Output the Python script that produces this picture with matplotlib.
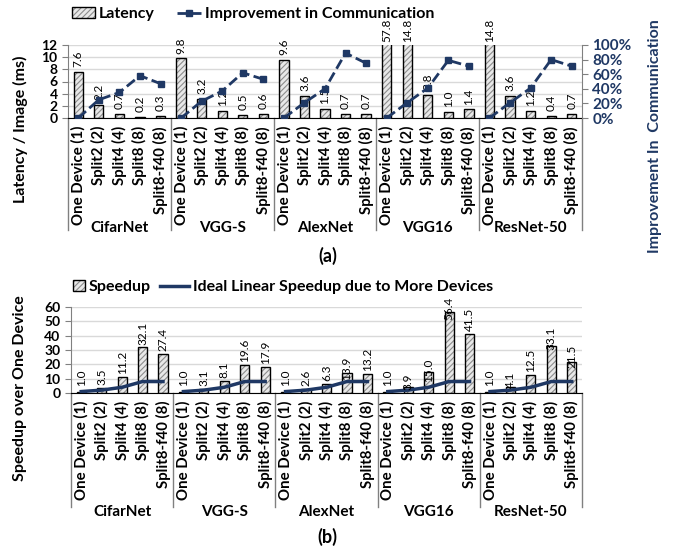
import matplotlib
matplotlib.use("Agg")
import matplotlib.pyplot as plt
import numpy as np
from matplotlib.patches import Patch
from matplotlib.lines import Line2D
from matplotlib.ticker import PercentFormatter

plt.rcParams['font.family'] = ['Lato', 'DejaVu Sans']

networks = ["CifarNet", "VGG-S", "AlexNet", "VGG16", "ResNet-50"]
configs = ["One Device (1)", "Split2 (2)", "Split4 (4)", "Split8 (8)", "Split8-f40 (8)"]

# latency per image (ms)
latency = [
    [7.6, 2.2, 0.7, 0.2, 0.3],
    [9.8, 3.2, 1.2, 0.5, 0.6],
    [9.6, 3.6, 1.5, 0.7, 0.7],
    [57.8, 14.8, 3.8, 1.0, 1.4],
    [14.8, 3.6, 1.2, 0.4, 0.7],
]
# improvement in communication (fraction)
improvement = [
    [0.0, 0.25, 0.35, 0.58, 0.47],
    [0.0, 0.23, 0.37, 0.62, 0.53],
    [0.0, 0.21, 0.40, 0.89, 0.75],
    [0.0, 0.21, 0.41, 0.79, 0.71],
    [0.0, 0.21, 0.41, 0.80, 0.71],
]
speedup = [
    [1.0, 3.5, 11.2, 32.1, 27.4],
    [1.0, 3.1, 8.1, 19.6, 17.9],
    [1.0, 2.6, 6.3, 13.9, 13.2],
    [1.0, 3.9, 15.0, 56.4, 41.5],
    [1.0, 4.1, 12.5, 33.1, 21.5],
]
ideal = [1, 2, 4, 8, 8]

# where each speedup label sits relative to its bar top (pixels)
speedup_label_shift = [
    [6, 3, 3, 2, 3],
    [6, 3, 3, 3, 3],
    [6, 3, 3, -7, 3],
    [6, -3, -10, -8, 3],
    [6, -1, 3, -4, -6],
]

W, H = 677, 548
NAVY = "#1F3864"
HATCH_FILL = "#e8e8e8"
HATCH_COL = "#8c8c8c"
GRID = "#d9d9d9"
SPINE = "#808080"

fig = plt.figure(figsize=(W / 100, H / 100), dpi=100)


def px_axes(l, t, r, b):
    return fig.add_axes([l / W, 1 - b / H, (r - l) / W, (b - t) / H])


def hatched_bars(ax, x, vals):
    plt.rcParams['hatch.color'] = HATCH_COL
    plt.rcParams['hatch.linewidth'] = 0.8
    ax.bar(x, vals, width=0.45, color=HATCH_FILL, edgecolor=HATCH_COL,
           hatch="//////", linewidth=0, zorder=2)
    ax.bar(x, vals, width=0.45, fill=False, edgecolor="black",
           linewidth=1.0, zorder=3)


def category_axis(ax, h_px, depth_px, name_px):
    ax.set_xlim(-0.5, 24.5)
    ax.set_xticks([])
    tr = ax.get_xaxis_transform()
    for k in range(6):
        xs = k * 5 - 0.5
        ax.plot([xs, xs], [0, -depth_px / h_px], transform=tr,
                color=SPINE, lw=1, clip_on=False)
    for g, net in enumerate(networks):
        for i, c in enumerate(configs):
            ax.text(g * 5 + i, -8 / h_px, c, transform=tr, rotation=90,
                    ha="center", va="top", fontsize=10.8, fontweight="bold")
        ax.text(g * 5 + 2, -name_px / h_px, net, transform=tr,
                ha="center", va="center", fontsize=11, fontweight="bold")


def style_axis(ax):
    for s in ["top", "right"]:
        ax.spines[s].set_visible(False)
    ax.spines["left"].set_color(SPINE)
    ax.spines["bottom"].set_color("black")
    ax.tick_params(axis="y", colors=SPINE, length=4, labelsize=10,
                   labelcolor="black")
    for t in ax.get_yticklabels():
        t.set_fontweight("bold")
    ax.grid(axis="y", color=GRID, lw=1, zorder=0)
    ax.set_axisbelow(True)


def legend_entry(handle, label, x_px, y_px, hlen):
    leg = fig.legend([handle], [label], loc="center left",
                     bbox_to_anchor=(x_px / W, 1 - y_px / H), frameon=False,
                     handlelength=hlen, handletextpad=0.25, borderpad=0,
                     borderaxespad=0, prop={"weight": "bold", "size": 11.5})
    return leg


# ---------------- (a) latency ----------------
ax1 = px_axes(68, 45, 582, 118)
ax1.set_ylim(0, 12)
ax1.set_yticks(range(0, 13, 2))
for g in range(5):
    xs = np.arange(5) + g * 5
    hatched_bars(ax1, xs, latency[g])
    for x, v in zip(xs, latency[g]):
        off = 3.5 if v <= 12 else 2
        ax1.annotate(f"{v:.1f}", (x, min(v, 12)), xytext=(0, off),
                     textcoords="offset points", rotation=90, ha="center",
                     va="bottom", fontsize=8.5, annotation_clip=False)
style_axis(ax1)
category_axis(ax1, 73, 112, 110)

ax1r = ax1.twinx()
ax1r.set_ylim(0, 1)
ax1r.set_yticks(np.arange(0, 1.01, 0.2))
ax1r.yaxis.set_major_formatter(PercentFormatter(1.0, decimals=0))
for g in range(5):
    xs = np.arange(5) + g * 5
    ax1r.plot(xs, improvement[g], color=NAVY, ls="--", lw=2, marker="s",
              ms=4, zorder=4)
for s in ["top", "left", "bottom"]:
    ax1r.spines[s].set_visible(False)
ax1r.spines["right"].set_color(SPINE)
ax1r.tick_params(axis="y", colors=SPINE, length=4, labelsize=11,
                 labelcolor=NAVY)
for t in ax1r.get_yticklabels():
    t.set_fontweight("bold")

fig.text(20 / W, 1 - 129 / H, "Latency / Image (ms)", rotation=90,
         ha="center", va="center", fontsize=11.5, fontweight="bold")
fig.text(655 / W, 1 - 136 / H, "Improvement In  Communication", rotation=90,
         ha="center", va="center", fontsize=11.5, fontweight="bold", color=NAVY)

h_lat = (Patch(facecolor=HATCH_FILL, edgecolor=HATCH_COL, hatch="//////", lw=0),
         Patch(fill=False, edgecolor="black", lw=1))
h_imp = Line2D([], [], color=NAVY, ls="--", lw=2, marker="s", ms=4)
legend_entry(h_lat, "Latency", 72, 14, 1.45)
legend_entry(h_imp, "Improvement in Communication", 177, 14, 1.5)
fig.text(328 / W, 1 - 256 / H, "(a)", ha="center", va="center",
         fontsize=13, fontweight="bold")

# ---------------- (b) speedup ----------------
ax2 = px_axes(71, 307, 582, 393)
ax2.set_ylim(0, 60)
ax2.set_yticks(range(0, 61, 10))
for g in range(5):
    xs = np.arange(5) + g * 5
    hatched_bars(ax2, xs, speedup[g])
    ax2.plot(xs, ideal, color=NAVY, lw=2.5, zorder=4)
    for x, v, dy in zip(xs, speedup[g], speedup_label_shift[g]):
        ax2.annotate(f"{v:.1f}", (x, v), xytext=(0, dy * 0.72),
                     textcoords="offset points", rotation=90, ha="center",
                     va="bottom", fontsize=8.5, annotation_clip=False,
                     zorder=5)
style_axis(ax2)
category_axis(ax2, 86, 114, 119)

fig.text(20 / W, 1 - 388 / H, "Speedup over One Device", rotation=90,
         ha="center", va="center", fontsize=11.5, fontweight="bold")

h_sp = (Patch(facecolor=HATCH_FILL, edgecolor=HATCH_COL, hatch="//////", lw=0),
        Patch(fill=False, edgecolor="black", lw=1))
h_id = Line2D([], [], color=NAVY, lw=2.5)
legend_entry(h_sp, "Speedup", 73, 287, 0.75)
legend_entry(h_id, "Ideal Linear Speedup due to More Devices", 160, 287, 1.8)
fig.text(327 / W, 1 - 537 / H, "(b)", ha="center", va="center",
         fontsize=13, fontweight="bold")

fig.savefig("out.png", dpi=100)
